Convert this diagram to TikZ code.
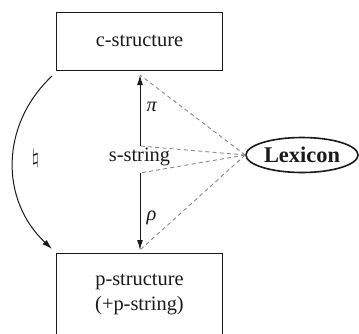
\documentclass[tikz,border=0pt]{standalone}
\usepackage{fontspec}
\setmainfont{Liberation Serif}
\newfontfamily\timesfont{Liberation Serif}
\usetikzlibrary{arrows.meta,calc,positioning,shapes.geometric}
\definecolor{Ink}{HTML}{1A1A1A}
\definecolor{DashGray}{HTML}{8A8A8A}
\tikzset{
  level/.style={
    draw=Ink, line width=0.5pt, minimum width=83pt, align=center,
    font=\timesfont\fontsize{10.2}{12.5}\selectfont, text=Ink
  },
  lexbox/.style={
    ellipse, draw=Ink, line width=0.8pt, minimum width=56pt, minimum height=17.5pt,
    inner sep=0pt, font=\timesfont\fontsize{11.2}{13}\selectfont\bfseries, text=Ink
  },
  strlabel/.style={font=\timesfont\fontsize{10.2}{12}\selectfont, text=Ink, inner sep=0pt},
  map/.style={-{Latex[length=5pt,width=3pt]}, line width=0.5pt, draw=Ink},
  lexlink/.style={dash pattern=on 2pt off 1.6pt, line width=0.45pt, draw=DashGray}
}
\begin{document}
\begin{tikzpicture}[x=0.5pt,y=-0.5pt]
    \useasboundingbox (0,0) rectangle (359,333);
    \node[level,minimum height=29pt] (cstr) at (139.5,41) {c-structure};
    \node[level,minimum height=41pt,anchor=north] (pstr) at (139.5,253) {p-structure\\(+p-string)};
    \node[strlabel] (sstr) at (139.5,157) {s-string};
    \node[lexbox] (lex) at (302,155) {Lexicon};
    % ends of the two vertical maps
    \coordinate (ptop) at (140,146);
    \coordinate (pitip) at (140,75);
    \coordinate (rtop) at (140,173);
    \coordinate (rtip) at (140,250);
    \draw[map] (ptop) -- node[pos=0.55,right=3pt,strlabel] {\textit{π}} (pitip);
    \draw[map] (rtop) -- node[pos=0.58,right=3pt,strlabel] {\textit{ρ}} (rtip);
    \foreach \t in {pitip,ptop,rtop,rtip}
      \draw[lexlink] (lex.west) -- (\t);
    % natural map from c- to p-structure
    \coordinate (nstart) at (52,76);
    \coordinate (nend) at (52,249);
    \draw[map] (nstart) .. controls (0,125) and (0,200) .. node[pos=0.48,right=9pt,strlabel] {$\natural$} (nend);
\end{tikzpicture}
\end{document}
